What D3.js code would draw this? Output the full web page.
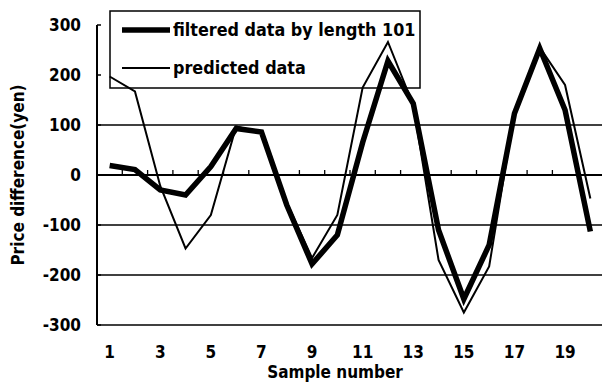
<!DOCTYPE html>
<html>
<head>
<meta charset="utf-8">
<script src="https://cdn.jsdelivr.net/npm/d3@7.9.0/dist/d3.min.js"></script>
<style>
  body { margin: 0; background: #fff; }
  svg { display: block; }
  text { font-family: "Liberation Sans Narrow", "Arial Narrow", "DejaVu Sans Condensed", sans-serif; font-weight: bold; fill: #000; }
</style>
</head>
<body>
<svg width="602" height="382"></svg>
<script>
// sample numbers and the two series (yen)
const samples = d3.range(1, 21);
const filtered = [19, 11, -30, -40, 17, 93, 86, -60, -178, -120, 65, 228, 143, -110, -248, -140, 123, 253, 130, -113];
const predicted = [197, 167, -22, -147, -80, 97, 85, -55, -166, -80, 175, 266, 140, -170, -275, -183, 125, 255, 180, -47];
const yTicks = [300, 200, 100, 0, -100, -200, -300];
const xTickLabels = [1, 3, 5, 7, 9, 11, 13, 15, 17, 19];
const gridValues = [100, -100, -200, -300];

const svg = d3.select("svg");

const x = d3.scaleBand().domain(samples).range([97, 603]);
const y = d3.scaleLinear().domain([-300, 300]).range([325, 25]);
const cx = d => x(d) + x.bandwidth() / 2;

// horizontal gridlines
svg.selectAll(".grid")
  .data(gridValues)
  .join("line")
  .attr("x1", 97).attr("x2", 602)
  .attr("y1", d => y(d)).attr("y2", d => y(d))
  .attr("stroke", "#000").attr("stroke-width", 1.5);

// zero line with small category ticks
svg.append("line")
  .attr("x1", 97).attr("x2", 602)
  .attr("y1", y(0)).attr("y2", y(0))
  .attr("stroke", "#000").attr("stroke-width", 1.8);

svg.selectAll(".xtick")
  .data(samples.slice(1))
  .join("line")
  .attr("x1", d => x(d)).attr("x2", d => x(d))
  .attr("y1", y(0)).attr("y2", y(0) - 5)
  .attr("stroke", "#000").attr("stroke-width", 1.3);

// y axis
svg.append("line")
  .attr("x1", 97).attr("x2", 97)
  .attr("y1", y(300)).attr("y2", y(-300))
  .attr("stroke", "#000").attr("stroke-width", 2);

svg.selectAll(".ytick")
  .data(yTicks)
  .join("line")
  .attr("x1", 97).attr("x2", 101)
  .attr("y1", d => y(d)).attr("y2", d => y(d))
  .attr("stroke", "#000").attr("stroke-width", 1.5);

svg.selectAll(".ylab")
  .data(yTicks)
  .join("text")
  .attr("x", 81)
  .attr("y", d => y(d) + 6)
  .attr("text-anchor", "end")
  .attr("font-size", 17)
  .text(d => d);

svg.selectAll(".xlab")
  .data(xTickLabels)
  .join("text")
  .attr("x", d => cx(d))
  .attr("y", 358)
  .attr("text-anchor", "middle")
  .attr("font-size", 17)
  .text(d => d);

svg.append("text")
  .attr("x", 335).attr("y", 378)
  .attr("text-anchor", "middle")
  .attr("font-size", 17)
  .text("Sample number");

svg.append("text")
  .attr("transform", "translate(24,175) rotate(-90)")
  .attr("text-anchor", "middle")
  .attr("font-size", 17)
  .text("Price difference(yen)");

// legend (drawn under the lines, like the original)
const legend = svg.append("g");
legend.append("rect")
  .attr("x", 110).attr("y", 11).attr("width", 310).attr("height", 77)
  .attr("fill", "none").attr("stroke", "#000").attr("stroke-width", 1.5);

const legendItems = [
  { label: "filtered data by length 101", width: 5.5, yy: 30 },
  { label: "predicted data", width: 2, yy: 68 }
];
legendItems.forEach(d => {
  legend.append("line")
    .attr("x1", 122).attr("x2", 170)
    .attr("y1", d.yy).attr("y2", d.yy)
    .attr("stroke", "#000").attr("stroke-width", d.width);
  legend.append("text")
    .attr("x", 173).attr("y", d.yy + 6)
    .attr("font-size", 17.8)
    .text(d.label);
});

// series
const line = d3.line().x((d, i) => cx(samples[i])).y(d => y(d));

svg.append("path")
  .attr("d", line(predicted))
  .attr("fill", "none").attr("stroke", "#000")
  .attr("stroke-width", 2).attr("stroke-linejoin", "miter");

svg.append("path")
  .attr("d", line(filtered))
  .attr("fill", "none").attr("stroke", "#000")
  .attr("stroke-width", 5.5).attr("stroke-linejoin", "miter")
  .attr("stroke-miterlimit", 3);
</script>
</body>
</html>
